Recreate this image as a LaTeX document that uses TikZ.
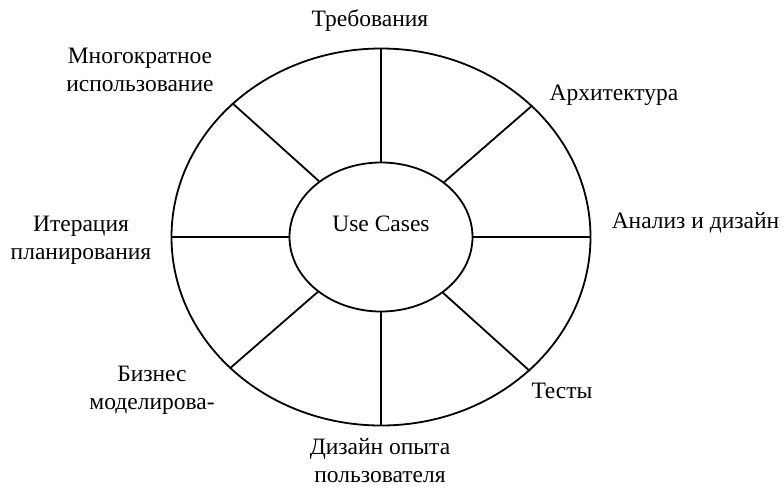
\documentclass[tikz,border=0pt]{standalone}
\usepackage{fontspec}
\setmainfont{Liberation Serif}
\usetikzlibrary{shapes.geometric}
\begin{document}
\begin{tikzpicture}[x=1pt,y=-1pt,
  ring/.style={draw, ellipse, line width=1.8pt, inner sep=0pt},
  spoke/.style={line width=1.8pt},
  txt/.style={font=\fontsize{23.5}{28}\selectfont},
  lbl/.style={txt, align=center, anchor=base, inner sep=0pt}]
\useasboundingbox (0,0) rectangle (784,488);

% outer ring and central use-case ellipse
\node[ring, minimum width=419pt, minimum height=377pt] (outer) at (381,237) {};
\node[ring, txt, minimum width=183pt, minimum height=149pt, text depth=25.6pt] (core) at (381,237) {Use Cases};

% spokes dividing the ring into eight sectors
\foreach \a in {0,41.5,90,138.5,180,221.5,270,318.5}
  \draw[spoke] (outer.\a) -- (core.\a);

% sector captions (base = baseline of the last line)
\node[lbl] (req)  at (370,26)    {Требования};
\node[lbl] (arch) at (614,100)   {Архитектура};
\node[lbl] (ana)  at (695.5,228.3) {Анализ и дизайн};
\node[lbl] (test) at (562,398)   {Тесты};
\node[lbl] (ux)   at (380,482.5) {Дизайн опыта\\пользователя};
\node[lbl] (biz)  at (152,409.5) {Бизнес\\моделирова-};
\node[lbl] (iter) at (81,259)    {Итерация\\планирования};
\node[lbl] (reuse) at (140,91.5) {Многократное\\использование};
\end{tikzpicture}
\end{document}
